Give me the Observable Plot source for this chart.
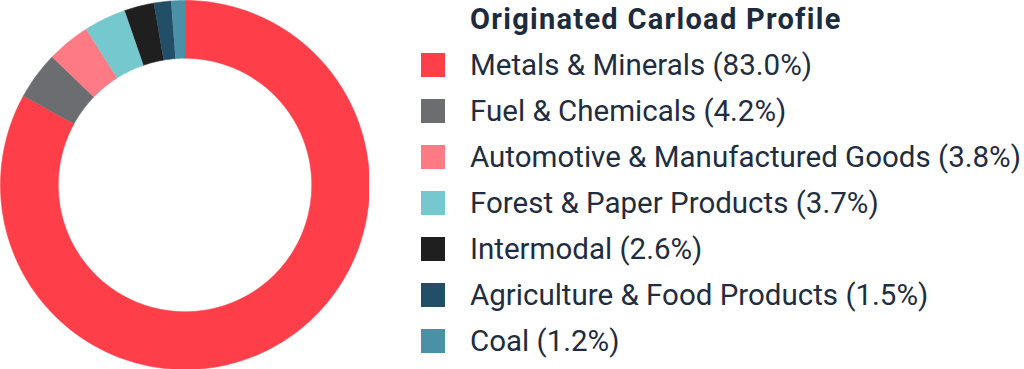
<!DOCTYPE html>
<html>
<head>
<meta charset="utf-8">
<script src="https://cdn.jsdelivr.net/npm/d3@7"></script>
<script src="https://cdn.jsdelivr.net/npm/@observablehq/plot@0.6"></script>
<style>
  html, body { margin: 0; padding: 0; background: #fff; }
  #wrap { position: relative; width: 1024px; height: 369px; overflow: hidden; font-family: Roboto, "Noto Sans", sans-serif; color: #1f2d3f; }
  #chart { position: absolute; left: 0; top: 0; }
  #title { position: absolute; left: 470px; top: 4.6px; font-size: 29px; line-height: 29px; font-weight: 700; color: #1c2b3d; white-space: nowrap; }
  #legend { position: absolute; left: 421px; top: 41.7px; }
  .row { display: flex; align-items: center; height: 46px; white-space: nowrap; }
  .sw { width: 24px; height: 24px; margin-right: 25px; flex: none; }
  .lab { font-size: 29.5px; line-height: 46px; }
</style>
</head>
<body>
<div id="wrap">
  <div id="chart"></div>
  <div id="title">Originated Carload Profile</div>
  <div id="legend"></div>
</div>
<script>
const categories = [
  "Metals & Minerals",
  "Fuel & Chemicals",
  "Automotive & Manufactured Goods",
  "Forest & Paper Products",
  "Intermodal",
  "Agriculture & Food Products",
  "Coal"
];
const shares = [83.0, 4.2, 3.8, 3.7, 2.6, 1.5, 1.2];
const colors = ["#fe3e49", "#6c6d71", "#fe7a84", "#76c8cf", "#1f1f1f", "#234e68", "#4a91a6"];
const innerRatio = 0.687;

// Build ring-slice polygons from the shares (clockwise from 12 o'clock)
const total = d3.sum(shares);
const pts = [];
let acc = 0;
categories.forEach((name, i) => {
  const a0 = acc / total * 2 * Math.PI;
  acc += shares[i];
  const a1 = acc / total * 2 * Math.PI;
  const n = Math.max(8, Math.ceil((a1 - a0) / (Math.PI / 180)));
  for (let k = 0; k <= n; k++) {
    const a = a0 + (a1 - a0) * k / n;
    pts.push({name, x: Math.sin(a), y: Math.cos(a)});
  }
  for (let k = n; k >= 0; k--) {
    const a = a0 + (a1 - a0) * k / n;
    pts.push({name, x: innerRatio * Math.sin(a), y: innerRatio * Math.cos(a)});
  }
});

const plot = Plot.plot({
  width: 369,
  height: 369,
  margin: 0,
  x: {domain: [-1, 1], axis: null},
  y: {domain: [-1, 1], axis: null},
  color: {domain: categories, range: colors},
  marks: [
    Plot.line(pts, {x: "x", y: "y", z: "name", fill: "name", stroke: "name", strokeWidth: 0.6})
  ]
});
document.getElementById("chart").appendChild(plot);

const legend = document.getElementById("legend");
categories.forEach((name, i) => {
  const row = document.createElement("div");
  row.className = "row";
  const sw = document.createElement("div");
  sw.className = "sw";
  sw.style.background = colors[i];
  const lab = document.createElement("span");
  lab.className = "lab";
  lab.textContent = `${name} (${shares[i].toFixed(1)}%)`;
  row.appendChild(sw);
  row.appendChild(lab);
  legend.appendChild(row);
});

// stretch the title to the reference width
const title = document.getElementById("title");
const w = title.getBoundingClientRect().width;
const txt = title.textContent;
title.style.letterSpacing = ((370 - w) / (txt.length - 1)) + "px";
</script>
</body>
</html>
